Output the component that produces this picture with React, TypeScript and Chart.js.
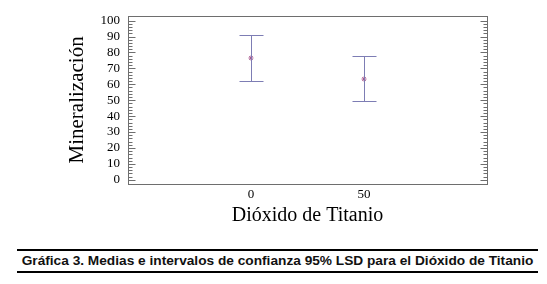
import React, { useEffect, useRef } from "react";
import { Chart, registerables } from "chart.js";

Chart.register(...registerables);

const categories: number[] = [0, 50];
const means: number[] = [76.5, 63.3];
const lowerLimits: number[] = [62.2, 49.2];
const upperLimits: number[] = [90.7, 77.5];
const xTickValues: number[] = [0, 50];
const yMajorStep = 10;
const yMinorStep = 2;

const xTitle = "Dióxido de Titanio";
const yTitle = "Mineralización";
const caption = "Gráfica 3. Medias e intervalos de confianza 95% LSD para el Dióxido de Titanio";

const BAR_COLOR = "#7d7db4";
const MEAN_COLOR = "#a8558c";
const FRAME_COLOR = "#6e6e6e";
const SERIF = "'Liberation Serif', 'Times New Roman', Times, serif";

const framePlugin = {
  id: "frameAndBars",
  afterDatasetsDraw(chart: any) {
    const { ctx, chartArea, scales } = chart;
    const xs = scales.x;
    const ys = scales.y;
    ctx.save();
    ctx.strokeStyle = BAR_COLOR;
    ctx.lineWidth = 1;
    for (let i = 0; i < categories.length; i++) {
      const px = Math.round(xs.getPixelForValue(categories[i])) + 0.5;
      const pLo = Math.round(ys.getPixelForValue(lowerLimits[i])) + 0.5;
      const pHi = Math.round(ys.getPixelForValue(upperLimits[i])) + 0.5;
      const half = 12;
      ctx.beginPath();
      ctx.moveTo(px, pLo);
      ctx.lineTo(px, pHi);
      ctx.moveTo(px - half, pLo);
      ctx.lineTo(px + half, pLo);
      ctx.moveTo(px - half, pHi);
      ctx.lineTo(px + half, pHi);
      ctx.stroke();
    }
    ctx.strokeStyle = FRAME_COLOR;
    ctx.lineWidth = 1;
    const l = Math.round(chartArea.left) + 0.5;
    const r = Math.round(chartArea.right) + 0.5;
    const t = Math.round(chartArea.top) + 0.5;
    const b = Math.round(chartArea.bottom) + 0.5;
    ctx.strokeRect(l, t, r - l, b - t);
    for (const tk of ys.ticks) {
      const v = tk.value;
      const py = Math.round(ys.getPixelForValue(v)) + 0.5;
      const major = Math.abs(v % yMajorStep) < 1e-6;
      const len = major ? 7 : 4;
      ctx.beginPath();
      ctx.moveTo(l, py);
      ctx.lineTo(l + len, py);
      ctx.moveTo(r, py);
      ctx.lineTo(r - len, py);
      ctx.stroke();
    }
    ctx.restore();
  },
};

function ChartCanvas() {
  const ref = useRef<HTMLCanvasElement | null>(null);
  useEffect(() => {
    if (!ref.current) return;
    const chart = new Chart(ref.current, {
      type: "scatter",
      data: {
        datasets: [
          {
            label: "Media",
            data: categories.map((c, i) => ({ x: c, y: means[i] })),
            pointStyle: "star",
            radius: 2.5,
            borderColor: MEAN_COLOR,
            backgroundColor: MEAN_COLOR,
            borderWidth: 1,
          },
        ],
      },
      plugins: [framePlugin],
      options: {
        animation: false,
        responsive: false,
        maintainAspectRatio: false,
        layout: { padding: { top: 8, right: 60, left: 0, bottom: 0 } },
        plugins: { legend: { display: false }, tooltip: { enabled: false } },
        scales: {
          x: {
            type: "linear",
            min: -54.4,
            max: 104.4,
            afterBuildTicks: (s: any) => {
              s.ticks = xTickValues.map((v) => ({ value: v }));
            },
            afterFit: (s: any) => {
              s.height = 56;
            },
            grid: { display: false, drawTicks: false },
            border: { display: false },
            ticks: {
              padding: 3,
              color: "#000",
              font: { family: SERIF, size: 13 },
              callback: (v: any) => String(v),
            },
            title: {
              display: true,
              text: xTitle,
              color: "#000",
              font: { family: SERIF, size: 20 },
              padding: { top: 0, bottom: 12 },
            },
          },
          y: {
            type: "linear",
            min: -2.6,
            max: 103,
            afterBuildTicks: (s: any) => {
              const arr: any[] = [];
              for (let v = 0; v <= 100; v += yMinorStep) arr.push({ value: v });
              s.ticks = arr;
            },
            afterFit: (s: any) => {
              s.width = 128;
            },
            grid: { display: false, drawTicks: false },
            border: { display: false },
            ticks: {
              padding: 8,
              color: "#000",
              autoSkip: false,
              font: { family: SERIF, size: 13 },
              callback: (v: any) => (Math.abs(Number(v) % yMajorStep) < 1e-6 ? String(v) : ""),
            },
            title: {
              display: true,
              text: yTitle,
              color: "#000",
              font: { family: SERIF, size: 21 },
              padding: { top: 65, bottom: 0 },
            },
          },
        },
      },
    } as any);
    return () => chart.destroy();
  }, []);
  return (
    <canvas
      ref={ref}
      width={547}
      height={240}
      style={{ position: "absolute", left: 0, top: 0, width: 547, height: 240 }}
    />
  );
}

export default function App() {
  useEffect(() => {
    document.body.style.margin = "0";
  }, []);
  return (
    <div style={{ position: "relative", width: 547, height: 284, background: "#fff", overflow: "hidden" }}>
      <ChartCanvas />
      <div
        style={{
          position: "absolute",
          left: 17,
          top: 249,
          width: 521,
          height: 20,
          borderTop: "2px solid #000",
          borderBottom: "2px solid #000",
          fontFamily: "'Liberation Sans', Arial, sans-serif",
          fontWeight: "bold",
          fontSize: 13.7,
          lineHeight: "20px",
          textAlign: "center",
          color: "#111",
          whiteSpace: "nowrap",
        }}
      >
        {caption}
      </div>
    </div>
  );
}
